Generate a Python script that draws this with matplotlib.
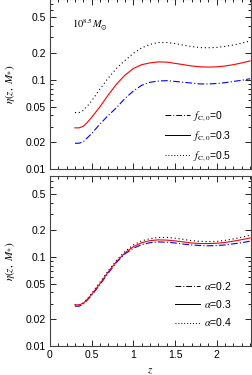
import matplotlib
matplotlib.use("Agg")
import matplotlib.pyplot as plt
from matplotlib.lines import Line2D
from matplotlib.ticker import FixedLocator, NullFormatter, MultipleLocator, LogLocator

plt.rcParams['font.family'] = ['Liberation Sans', 'DejaVu Sans']
plt.rcParams['mathtext.fontset'] = 'stix'

# redshift grid
z = [0.3, 0.35, 0.4, 0.45, 0.5, 0.6, 0.7, 0.8, 0.9, 1.0, 1.1, 1.2, 1.3, 1.4, 1.5,
     1.6, 1.7, 1.8, 1.9, 2.0, 2.1, 2.2, 2.3, 2.4]

# top panel: different f_C,0
eta_f0 = [0.0195, 0.0195, 0.0203, 0.0225, 0.025, 0.032, 0.040, 0.049, 0.062, 0.075,
          0.087, 0.094, 0.097, 0.098, 0.096, 0.094, 0.092, 0.090, 0.090, 0.091,
          0.093, 0.096, 0.099, 0.103]
eta_f03 = [0.029, 0.029, 0.0302, 0.0335, 0.038, 0.050, 0.068, 0.090, 0.113, 0.134,
           0.148, 0.155, 0.159, 0.158, 0.153, 0.148, 0.143, 0.140, 0.139, 0.140,
           0.143, 0.148, 0.155, 0.163]
eta_f05 = [0.043, 0.043, 0.0455, 0.051, 0.058, 0.079, 0.105, 0.135, 0.165, 0.198,
           0.228, 0.250, 0.262, 0.262, 0.255, 0.245, 0.236, 0.230, 0.229, 0.231,
           0.237, 0.246, 0.258, 0.273]

# bottom panel: different alpha
eta_a02 = [0.028, 0.028, 0.0295, 0.033, 0.037, 0.049, 0.066, 0.087, 0.108, 0.125,
           0.137, 0.144, 0.147, 0.146, 0.143, 0.139, 0.136, 0.134, 0.133, 0.134,
           0.136, 0.140, 0.144, 0.150]
eta_a03 = [0.029, 0.029, 0.0302, 0.0335, 0.038, 0.050, 0.068, 0.089, 0.111, 0.130,
           0.144, 0.152, 0.155, 0.154, 0.151, 0.147, 0.143, 0.141, 0.141, 0.142,
           0.145, 0.150, 0.156, 0.163]
eta_a04 = [0.029, 0.029, 0.0305, 0.034, 0.039, 0.052, 0.070, 0.092, 0.115, 0.136,
           0.151, 0.160, 0.165, 0.165, 0.162, 0.157, 0.152, 0.149, 0.148, 0.149,
           0.153, 0.159, 0.166, 0.175]

labels_top = [r'$f_{\rm C,0}$=0', r'$f_{\rm C,0}$=0.3', r'$f_{\rm C,0}$=0.5']
labels_bot = [r'$\alpha$=0.2', r'$\alpha$=0.3', r'$\alpha$=0.4']
yticks = [0.01, 0.02, 0.05, 0.1, 0.2, 0.5]
ytick_labels = ['0.01', '0.02', '0.05', '0.1', '0.2', '0.5']

dashdot = (0, (6, 2, 1, 2))

fig = plt.figure(figsize=(2.52, 3.75), dpi=100)
ax1 = fig.add_axes([0.198, 0.549, 0.798, 0.453])
ax2 = fig.add_axes([0.198, 0.077, 0.798, 0.453])

ax1.plot(z, eta_f0, color='blue', lw=0.8, ls=dashdot)
ax1.plot(z, eta_f03, color='red', lw=0.8)
ax1.plot(z, eta_f05, color='black', lw=0.8, ls=(0, (1, 2.5)))

ax2.plot(z, eta_a02, color='blue', lw=0.8, ls=dashdot)
ax2.plot(z, eta_a04, color='black', lw=0.8, ls=(0, (1, 2.5)))
ax2.plot(z, eta_a03, color='red', lw=0.8)

legend_y = {0: -0.02, 1: 0.05}
for i, (ax, labs) in enumerate([(ax1, labels_top), (ax2, labels_bot)]):
    ax.set_yscale('log')
    ax.set_ylim(0.01, 0.8)
    ax.set_xlim(0, 2.41)
    ax.yaxis.set_major_locator(FixedLocator(yticks))
    ax.set_yticklabels(ytick_labels)
    ax.yaxis.set_minor_locator(LogLocator(subs=[1, 2, 3, 4, 5, 6, 7, 8, 9]))
    ax.yaxis.set_minor_formatter(NullFormatter())
    ax.xaxis.set_major_locator(MultipleLocator(0.5))
    ax.xaxis.set_minor_locator(MultipleLocator(0.1))
    ax.tick_params(which='both', direction='in', top=True, right=True,
                   labelsize=7.5, width=0.6, pad=3)
    ax.tick_params(which='major', length=4)
    ax.tick_params(which='minor', length=2)
    for s in ax.spines.values():
        s.set_linewidth(0.8)
        s.set_color('#444444')
    ax.set_ylabel(r'$\eta(z,\ M_{*})$', fontsize=8, labelpad=6)
    handles = [Line2D([], [], color='black', lw=0.7, ls=dashdot),
               Line2D([], [], color='black', lw=0.7),
               Line2D([], [], color='black', lw=0.7, ls=(0, (1, 2)))]
    ax.legend(handles, labs, loc='lower right', bbox_to_anchor=(0.95, legend_y[i]),
              frameon=False, fontsize=7.5, handlelength=2.4, handletextpad=0.3,
              labelspacing=0.6)

ax1.tick_params(labelbottom=False)
ax1.text(0.11, 0.83, r'$10^{8.5}M_{\odot}$', transform=ax1.transAxes, fontsize=7.5)
ax2.set_xticks([0, 0.5, 1, 1.5, 2])
ax2.set_xticklabels(['0', '0.5', '1', '1.5', '2'])
ax2.set_xlabel(r'$z$', fontsize=8, labelpad=4)

fig.savefig('out.png', dpi=100)
